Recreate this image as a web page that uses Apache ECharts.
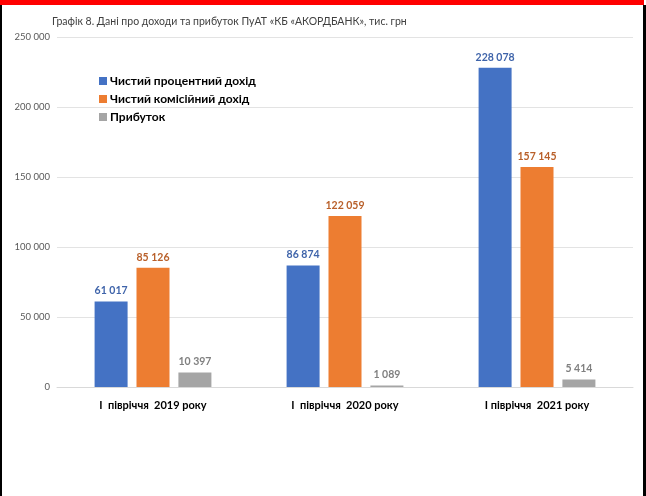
<!DOCTYPE html>
<html>
<head>
<meta charset="utf-8">
<script src="https://cdn.jsdelivr.net/npm/echarts@6/dist/echarts.min.js"></script>
<style>
  html, body { margin: 0; padding: 0; background: #fff; }
  #frame { position: relative; width: 646px; height: 496px; box-sizing: border-box; }
  #redband { position: absolute; left: 0; top: 0; width: 644px; height: 5px; background: #ff0000; }
  #chart { position: absolute; left: 0; top: 0; width: 646px; height: 496px; }
  #lborder { position: absolute; left: 0; top: 5px; width: 2px; height: 491px; background: #000; }
  #rborder { position: absolute; left: 643px; top: 5px; width: 3px; height: 491px; background: #000; }
</style>
</head>
<body>
<div id="frame">
  <div id="chart"></div>
  <div id="redband"></div>
  <div id="lborder"></div>
  <div id="rborder"></div>
</div>
<script>
const categories = ["I  півріччя  2019 року", "I  півріччя  2020 року", "I півріччя  2021 року"];
const seriesNames = ["Чистий процентний дохід", "Чистий комісійний дохід", "Прибуток"];
const netInterest = [61017, 86874, 228078];
const netCommission = [85126, 122059, 157145];
const profit = [10397, 1089, 5414];
const yTicks = [0, 50000, 100000, 150000, 200000, 250000];

const barColors = ["#4472C4", "#ED7D31", "#A5A5A5"];
const labelColors = ["#3F64AA", "#B9602A", "#808080"];
const fontFamily = "Lato, 'Liberation Sans', sans-serif";

function spaced(v) {
  return String(v).replace(/\B(?=(\d{3})+(?!\d))/g, " ");
}

const chart = echarts.init(document.getElementById("chart"));

const seriesData = [netInterest, netCommission, profit];

chart.setOption({
  animation: false,
  textStyle: { fontFamily: fontFamily },
  title: {
    text: "Графік 8. Дані про доходи та прибуток ПуАТ «КБ «АКОРДБАНК», тис. грн",
    left: 47,
    top: 11,
    textStyle: { fontSize: 10.5, fontWeight: "normal", color: "#404040", fontFamily: fontFamily },
  },
  legend: {
    orient: "vertical",
    left: 94,
    top: 70,
    itemWidth: 8,
    itemHeight: 8,
    itemGap: 6,
    icon: "rect",
    textStyle: { fontSize: 12, fontWeight: "bold", color: "#000", fontFamily: fontFamily, padding: [0, 0, 0, -2] },
    data: seriesNames,
  },
  grid: { left: 57, right: 13, top: 37, bottom: 109 },
  xAxis: {
    type: "category",
    data: categories,
    axisLine: { lineStyle: { color: "#D9D9D9", width: 1 } },
    axisTick: { show: false },
    axisLabel: { margin: 13, fontSize: 11, fontWeight: "bold", color: "#000", fontFamily: fontFamily },
  },
  yAxis: {
    type: "value",
    min: yTicks[0],
    max: yTicks[yTicks.length - 1],
    interval: yTicks[1] - yTicks[0],
    axisLine: { show: false },
    axisTick: { show: false },
    splitLine: { lineStyle: { color: "#E3E3E3", width: 1 } },
    axisLabel: { margin: 7, fontSize: 9.5, color: "#595959", fontFamily: fontFamily, formatter: (v) => spaced(v) },
  },
  series: seriesNames.map((name, i) => ({
    name: name,
    type: "bar",
    data: seriesData[i],
    barWidth: 33,
    barGap: "27%",
    itemStyle: { color: barColors[i] },
    label: {
      show: true,
      position: "top",
      distance: 5,
      fontSize: 10.5,
      fontWeight: "bold",
      color: labelColors[i],
      fontFamily: fontFamily,
      formatter: (p) => spaced(p.value),
    },
  })),
});
</script>
</body>
</html>
